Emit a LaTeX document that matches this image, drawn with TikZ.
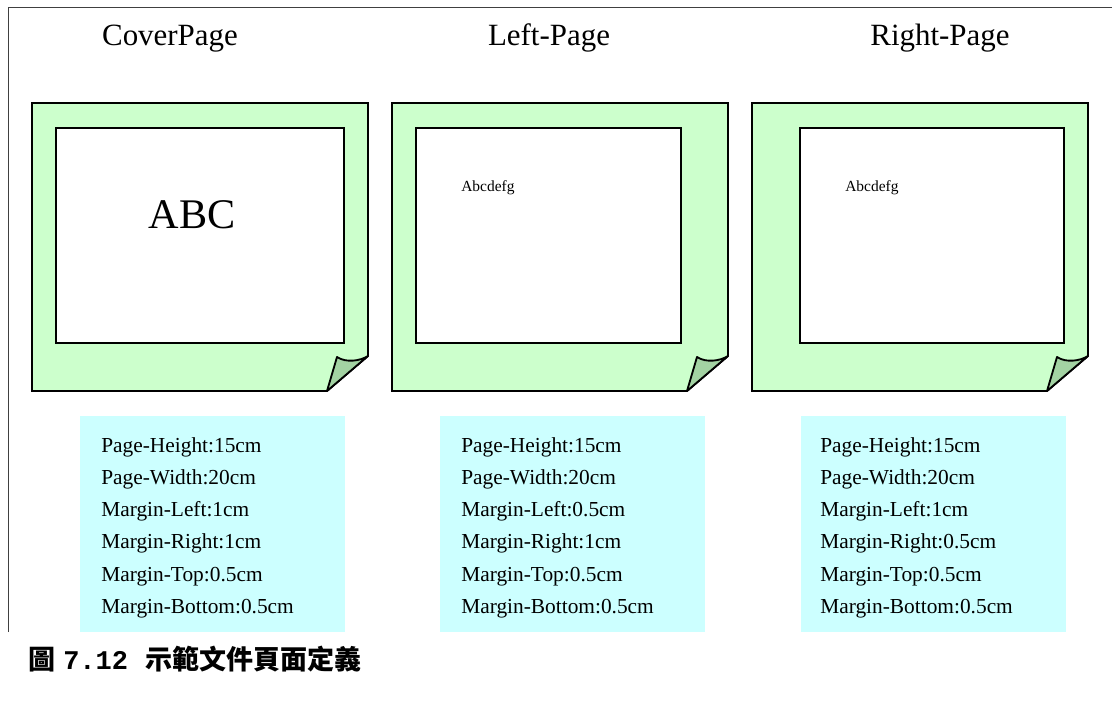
\documentclass[tikz,border=0pt]{standalone}
\usepackage{fontspec}
\setmainfont{Liberation Serif}
\newfontfamily\cjk{Noto Sans CJK TC}
\newfontfamily\monob{Liberation Mono}
\definecolor{paper}{HTML}{CCFFCC}
\definecolor{curl}{HTML}{A3D3A3}
\definecolor{infobg}{HTML}{CCFFFF}
\tikzset{
    pagefill/.style={fill=paper, draw=black, line width=1.3pt, line join=miter},
    curlfill/.style={fill=curl, draw=black, line width=1.3pt, line join=round},
    textarea/.style={fill=white, draw=black, line width=1.3pt},
    infobox/.style={fill=infobg},
    infoline/.style={anchor=base west, inner sep=0pt, font=\fontsize{15.2}{18}\selectfont},
    pagetitle/.style={anchor=base, inner sep=0pt, font=\fontsize{22}{26}\selectfont},
}
\begin{document}
\begin{tikzpicture}[x=0.025cm, y=-0.025cm]
    \useasboundingbox (0,0) rectangle (1112,700);
    \draw[black!75, line width=0.7pt] (8,632) -- (8,7) -- (1112,7);

    % titles
    \node[pagetitle] (tcover) at (170,45) {CoverPage};
    \node[pagetitle] (tleft) at (549,45) {Left-Page};
    \node[pagetitle] (tright) at (940,45) {Right-Page};

    % pages with curled corner
    \foreach \dx in {0,360,720} {
        \filldraw[pagefill] (32+\dx,103) -- (368+\dx,103) -- (368+\dx,356) -- (327+\dx,391) -- (32+\dx,391) -- cycle;
        \filldraw[curlfill] (368+\dx,356) -- (327+\dx,391) -- (337+\dx,357) .. controls (346+\dx,363) and (360+\dx,361) .. (368+\dx,356);
    }
    \filldraw[textarea] (56,128) rectangle (344,343);
    \filldraw[textarea] (416,128) rectangle (681,343);
    \filldraw[textarea] (800,128) rectangle (1064,343);

    \node[anchor=base, inner sep=0pt, font=\fontsize{30}{36}\selectfont] (abc) at (192,228) {ABC};
    \node[anchor=base west, inner sep=0pt, font=\fontsize{11}{13}\selectfont] (sample2) at (461,191) {Abcdefg};
    \node[anchor=base west, inner sep=0pt, font=\fontsize{11}{13}\selectfont] (sample3) at (845,191) {Abcdefg};

    % page settings
    \fill[infobox] (80,416) rectangle (345,632);
    \fill[infobox] (440,416) rectangle (705,632);
    \fill[infobox] (801,416) rectangle (1066,632);
    \foreach \bx/\ml/\mr [count=\i] in {101/1cm/1cm, 461/0.5cm/1cm, 820/1cm/0.5cm} {
        \node[infoline] (ph\i) at (\bx,452) {Page-Height:15cm};
        \node[infoline] (pw\i) at (\bx,484.3) {Page-Width:20cm};
        \node[infoline] (ml\i) at (\bx,516.6) {Margin-Left:\ml};
        \node[infoline] (mr\i) at (\bx,548.9) {Margin-Right:\mr};
        \node[infoline] (mt\i) at (\bx,581.2) {Margin-Top:0.5cm};
        \node[infoline] (mb\i) at (\bx,613.5) {Margin-Bottom:0.5cm};
    }

    % caption
    \node[anchor=base west, inner sep=0pt, font=\fontsize{19.2}{23}\cjk\bfseries] (capfig) at (28,669) {圖};
    \node[anchor=base west, inner sep=0pt, font=\fontsize{19.2}{23}\monob\bfseries] (capnum) at (63,669) {7.12};
    \node[anchor=base west, inner sep=0pt, font=\fontsize{19.2}{23}\cjk\bfseries] (captext) at (145,669) {示範文件頁面定義};
\end{tikzpicture}
\end{document}
